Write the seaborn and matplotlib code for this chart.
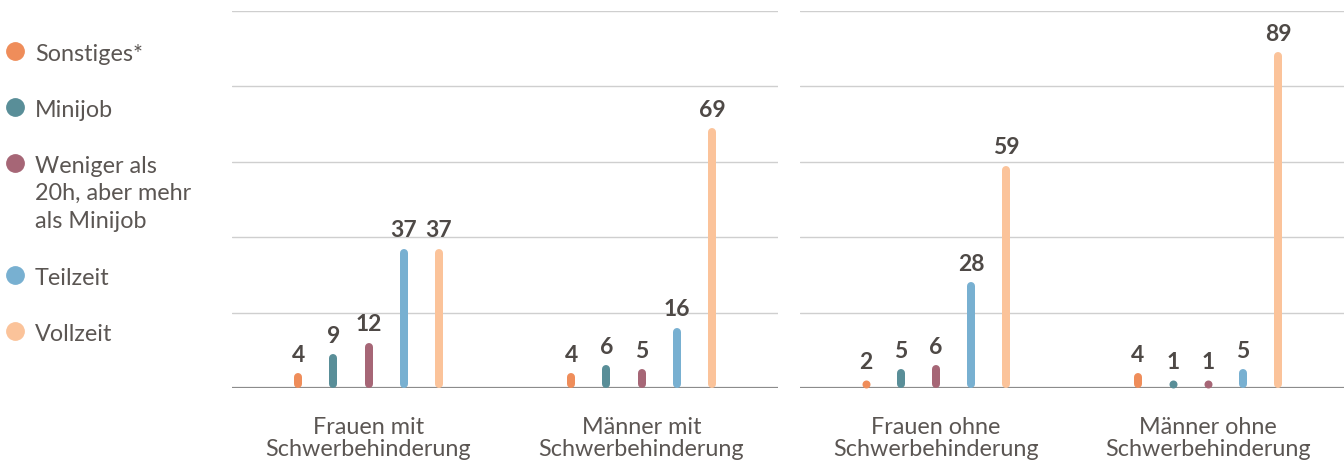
import pandas as pd
import numpy as np
import matplotlib.pyplot as plt
import seaborn as sns
from matplotlib.lines import Line2D

sns.set_theme(style="white")
plt.rcParams['font.family'] = ['Lato', 'DejaVu Sans']

# Data (percent)
arten = ["Sonstiges*", "Minijob", "Weniger als\n20h, aber mehr\nals Minijob", "Teilzeit", "Vollzeit"]
farben = ["#EF8D5A", "#598E98", "#A66676", "#78B0D1", "#FBC39A"]

gruppen_mit = ["Frauen mit\nSchwerbehinderung", "Männer mit\nSchwerbehinderung"]
gruppen_ohne = ["Frauen ohne\nSchwerbehinderung", "Männer ohne\nSchwerbehinderung"]

frauen_mit = [4, 9, 12, 37, 37]
maenner_mit = [4, 6, 5, 16, 69]
frauen_ohne = [2, 5, 6, 28, 59]
maenner_ohne = [4, 1, 1, 5, 89]

text_color = "#4e4946"
label_color = "#5b5653"


def long_df(gruppen, werte_listen):
    rows = []
    for g, werte in zip(gruppen, werte_listen):
        for a, v in zip(arten, werte):
            rows.append({"Gruppe": g, "Art": a, "Anteil": v})
    return pd.DataFrame(rows)


fig = plt.figure(figsize=(13.44, 4.64), dpi=100)
ax1 = fig.add_axes([232 / 1344, 75 / 464, 546 / 1344, 377 / 464])
ax2 = fig.add_axes([800 / 1344, 75 / 464, 544 / 1344, 377 / 464])

bar_px = 8
lw_pt = bar_px * 72 / fig.dpi

for ax, gruppen, werte in [(ax1, gruppen_mit, [frauen_mit, maenner_mit]),
                           (ax2, gruppen_ohne, [frauen_ohne, maenner_ohne])]:
    df = long_df(gruppen, werte)
    sns.barplot(data=df, x="Gruppe", y="Anteil", hue="Art", palette=farben,
                width=0.645, saturation=1, legend=False, ax=ax, errorbar=None)
    ax.set_ylim(0, 100)
    ax.set_xlim(-0.5, 1.5)

    # radius of the round ends in data units
    ax_h_px = ax.get_position().height * fig.get_figheight() * fig.dpi
    r = (bar_px / 2) / (ax_h_px / 100)

    for cont in ax.containers:
        for bar in cont:
            xc = bar.get_x() + bar.get_width() / 2
            h = bar.get_height()
            col = bar.get_facecolor()
            bar.set_visible(False)
            y0 = r
            y1 = h - r
            if y1 - y0 > 0.05:
                ax.plot([xc, xc], [y0, y1], color=col, lw=lw_pt,
                        solid_capstyle="round", zorder=3)
            else:
                # too short for a line: just a dot
                ax.plot([xc], [max(h / 2, r)], color=col, lw=0, marker="o",
                        markersize=lw_pt, markeredgewidth=0, zorder=3)
            ax.annotate(f"{h:g}", (xc, max(h, 2 * r)), xytext=(0, 6),
                        textcoords="offset points", ha="center", va="bottom",
                        fontsize=16.5, fontweight="bold", color=text_color)

    for y in [20, 40, 60, 80, 100]:
        ax.axhline(y, color="#cfcfcf", lw=1, zorder=1)
    ax.axhline(0, color="#8c8c8c", lw=1.6, zorder=2)

    sns.despine(ax=ax, left=True, bottom=True)
    ax.set_yticks([])
    ax.set_xlabel("")
    ax.set_ylabel("")
    ax.tick_params(axis="x", length=0, pad=20, labelsize=16.8, labelcolor=label_color)
    for t in ax.get_xticklabels():
        t.set_linespacing(1.1)

# Legend on the left
legend_y = [52, 108, 164, 276, 332]
for art, col, ypx in zip(arten, farben, legend_y):
    yf = 1 - ypx / 464
    fig.add_artist(Line2D([15 / 1344], [yf], marker="o", markersize=12.5,
                          color=col, lw=0, transform=fig.transFigure))
    fig.text(35 / 1344, yf + 8 / 464, art, ha="left", va="top", fontsize=16.8,
             color=label_color, linespacing=1.37)

fig.savefig("out.png", dpi=100, facecolor="white")
